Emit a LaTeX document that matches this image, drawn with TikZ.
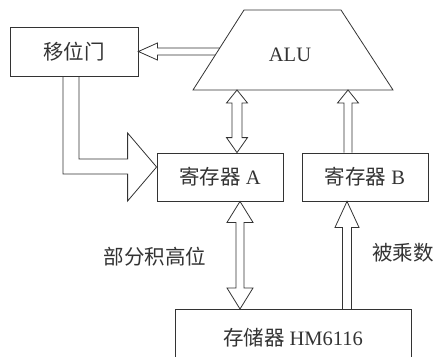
\documentclass[tikz,border=0pt]{standalone}
\usepackage{fontspec}
\setmainfont{Liberation Serif}
\newfontfamily\cjk{Noto Sans CJK SC}
\usetikzlibrary{calc}
\begin{document}
\begin{tikzpicture}[x=1pt,y=-1pt,
  box/.style={draw=black!80,line width=0.8pt,rectangle,inner sep=0pt,text=black!80},
  fat/.style={draw=black!80,line width=0.8pt,line join=miter},
  lbl/.style={text=black!80,inner sep=0pt},
  font=\fontsize{20.5}{20.5}\selectfont]
\useasboundingbox (0,0) rectangle (433,356);
\clip (0,0) rectangle (433,356);
% ALU trapezoid
\coordinate (aluTL) at (244,10);
\coordinate (aluTR) at (341,10);
\coordinate (aluBR) at (393,90);
\coordinate (aluBL) at (193,90);
\draw[fat] (aluTL) -- (aluTR) -- (aluBR) -- (aluBL) -- cycle;
\node[lbl] (alu) at (290,55) {ALU};
% boxes
\node[box,minimum width=128pt,minimum height=49pt] (shift) at (74,51.5) {\cjk 移位门};
\node[box,minimum width=126pt,minimum height=48pt] (regA) at (220,177) {{\cjk 寄存器} A};
\node[box,minimum width=126pt,minimum height=48pt] (regB) at (365,177) {{\cjk 寄存器} B};
\node[box,minimum width=236pt,minimum height=56pt,anchor=north] (mem) at (293,309) {{\cjk 存储器} HM6116};
% labels
\node[lbl] (l1) at (155,257) {\cjk 部分积高位};
\node[lbl] (l2) at (403,253) {\cjk 被乘数};
% arrow 1: ALU -> shift gate
\coordinate (a1tip) at (shift.east);
\draw[fat] ($(aluBL)!0.525!(aluTL)$) -- ($(a1tip)+(19,-3.5)$) -- ++(0,-5) -- (a1tip)
  -- ++(19,8.5) -- ++(0,-5) -- ($(aluBL)!0.4375!(aluTL)$);
% arrow 2: shift gate -> register A
\coordinate (a2tip) at ($(regA.west)+(0,-10)$);
\draw[fat] ($(shift.south)+(-11,0)$) |- ($(a2tip)+(-29,7)$) -- ++(0,27) -- (a2tip)
  -- ++(-29,-34) -- ++(0,26) -| ($(shift.south)+(5,0)$);
% arrow 3: ALU <-> register A
\coordinate (a3b) at ($(regA.north)+(17,0)$);
\coordinate (a3t) at (a3b |- aluBL);
\draw[fat] (a3t) -- ++(10.5,13) -- ++(-5.5,0) -- ($(a3b)+(5,-15)$) -- ++(5.5,0) -- (a3b)
  -- ++(-10.5,-15) -- ++(5.5,0) -- ($(a3t)+(-5,13)$) -- ++(-5.5,0) -- cycle;
% arrow 4: register B -> ALU
\coordinate (a4b) at ($(regB.north)+(-17,0)$);
\coordinate (a4t) at (a4b |- aluBL);
\draw[fat] ($(a4b)+(-4,0)$) -- ($(a4t)+(-4,13)$) -- ++(-6.5,0) -- (a4t) -- ++(10.5,13)
  -- ++(-6.5,0) -- ($(a4b)+(4,0)$);
% arrow 5: memory <-> register A
\coordinate (a5t) at ($(regA.south)+(20,0)$);
\coordinate (a5b) at (a5t |- mem.north);
\draw[fat] (a5t) -- ++(13,21) -- ++(-9,0) -- ($(a5b)+(4,-21)$) -- ++(9,0) -- (a5b)
  -- ++(-13,-21) -- ++(9,0) -- ($(a5t)+(-4,21)$) -- ++(-9,0) -- cycle;
% arrow 6: memory -> register B
\coordinate (a6t) at ($(regB.south)+(-18,0)$);
\coordinate (a6b) at (a6t |- mem.north);
\draw[fat] ($(a6b)+(-4.5,0)$) -- ($(a6t)+(-4.5,26)$) -- ++(-7.5,0) -- (a6t) -- ++(12,26)
  -- ++(-7.5,0) -- ($(a6b)+(4.5,0)$);
\end{tikzpicture}
\end{document}
